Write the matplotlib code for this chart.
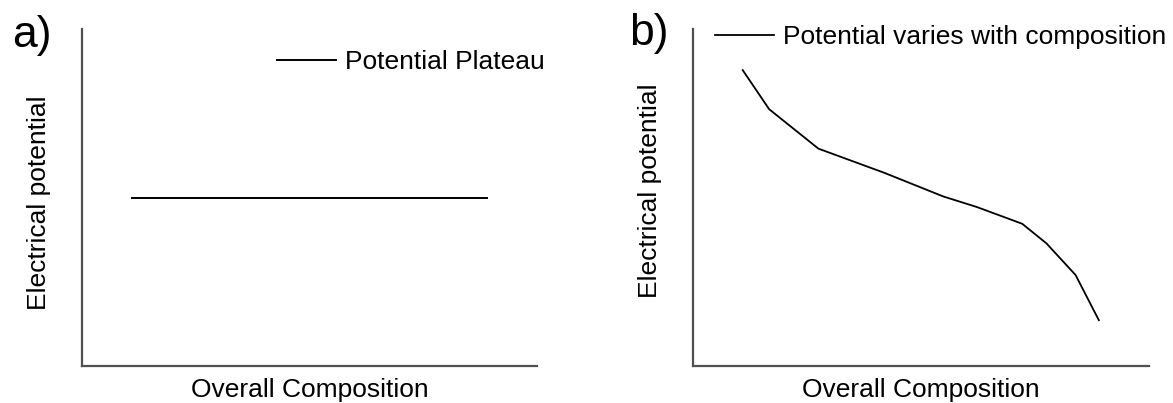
import matplotlib
matplotlib.use("Agg")
import matplotlib.pyplot as plt

plt.rcParams["font.family"] = ["Liberation Sans", "DejaVu Sans"]

# panel a: flat plateau
comp_a = [0.11, 0.89]
pot_a = [0.50, 0.50]

# panel b: sloping curve
comp_b = [0.109, 0.167, 0.275, 0.420, 0.549, 0.622, 0.722, 0.775, 0.839, 0.890]
pot_b = [0.878, 0.762, 0.645, 0.573, 0.503, 0.472, 0.422, 0.364, 0.270, 0.136]

panels = ["a)", "b)"]
legends = ["Potential Plateau", "Potential varies with composition"]
xlabel = "Overall Composition"
ylabel = "Electrical potential"

fig = plt.figure(figsize=(11.73, 4.03), dpi=100)
ax1 = fig.add_axes([82 / 1173, 37 / 403, 455 / 1173, 337 / 403])
ax2 = fig.add_axes([693 / 1173, 37 / 403, 456 / 1173, 337 / 403])

ax1.plot(comp_a, pot_a, color="black", lw=1.4, label=legends[0])
ax2.plot(comp_b, pot_b, color="black", lw=1.3, label=legends[1])

for ax in (ax1, ax2):
    ax.set_xlim(0, 1)
    ax.set_ylim(0, 1)
    ax.set_xticks([])
    ax.set_yticks([])
    ax.spines["top"].set_visible(False)
    ax.spines["right"].set_visible(False)
    for s in ("left", "bottom"):
        ax.spines[s].set_color("#505050")
        ax.spines[s].set_linewidth(1.6)
    ax.set_xlabel(xlabel, fontsize=19)
    # baseline just above the bottom edge so descenders stay inside
    ax.xaxis.set_label_coords(0.5, -0.091)
    ax.xaxis.label.set_va("baseline")

ax1.set_ylabel(ylabel, fontsize=19)
ax1.yaxis.set_label_coords(-0.068, 0.485)
ax2.set_ylabel(ylabel, fontsize=19)
ax2.yaxis.set_label_coords(-0.068, 0.52)

# legends placed by pixel position of the handle's left end
leg_pos = [(277, 62), (715, 37)]
for ax, (px, py) in zip((ax1, ax2), leg_pos):
    ax.legend(loc="center left", bbox_to_anchor=(px / 1173, 1 - py / 403),
              bbox_transform=fig.transFigure, frameon=False, fontsize=19,
              borderpad=0, borderaxespad=0, handlelength=2.25,
              handletextpad=0.33)

fig.text(12 / 1173, 1 - 15 / 403, panels[0], fontsize=32, va="top", ha="left")
fig.text(629 / 1173, 1 - 13 / 403, panels[1], fontsize=32, va="top", ha="left")

fig.savefig("out.png", dpi=100)
